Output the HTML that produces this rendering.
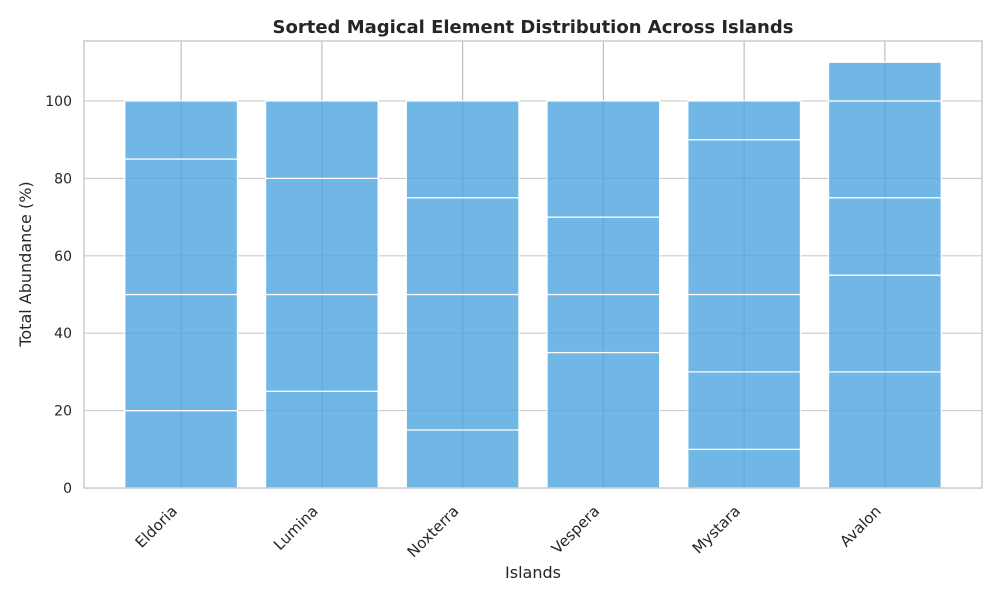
<!DOCTYPE html>
<html><head><meta charset="utf-8"><style>
body{margin:0;background:#fff;}
svg text{font-family:"DejaVu Sans","Liberation Sans",sans-serif;fill:#262626;}
</style></head><body>
<svg id="chart" width="1000" height="600" xmlns="http://www.w3.org/2000/svg">
<rect width="1000" height="600" fill="#fff"/>
<g id="grid"></g>
<g id="bars"></g>
<g id="axes"></g>
<text x="533" y="33" text-anchor="middle" font-size="18" font-weight="bold">Sorted Magical Element Distribution Across Islands</text>
<text x="533" y="578" text-anchor="middle" font-size="16">Islands</text>
<text transform="translate(31,264) rotate(-90)" text-anchor="middle" font-size="16">Total Abundance (%)</text>
</svg>
<script>
const categories=["Eldoria","Lumina","Noxterra","Vespera","Mystara","Avalon"];
const s1=[20,25,15,35,10,30];
const s2=[30,25,35,15,20,25];
const s3=[35,30,25,20,20,20];
const s4=[15,20,25,30,40,25];
const s5=[0,0,0,0,10,10];
const series=[s1,s2,s3,s4,s5];
const yTicks=[0,20,40,60,80,100];
const L=84,R=982,T=41,B=488,ymax=115.5;
const y=v=>B-(v/ymax)*(B-T);
const xs=(R-L)/(categories.length-1+1.38);
const x=i=>L+(i+0.69)*xs;
const NS="http://www.w3.org/2000/svg";
function mk(t,a,p){const e=document.createElementNS(NS,t);for(const k in a)e.setAttribute(k,a[k]);p.appendChild(e);return e;}
const grid=document.getElementById('grid'),bars=document.getElementById('bars'),axes=document.getElementById('axes');
yTicks.forEach(v=>{
 const g=mk('line',{x1:L,x2:R,y1:y(v),y2:y(v),stroke:'#cccccc','stroke-width':1.1},grid);
 
 
 const t=mk('text',{x:L-12,y:y(v)+5,'text-anchor':'end','font-size':14},axes);
 t.textContent=v;
 
 
});
categories.forEach((c,i)=>{
 const g=mk('line',{x1:x(i),x2:x(i),y1:T,y2:B,stroke:'#b8b8b8','stroke-width':1.1},grid);
 
 
 let base=0;const w=0.8*xs;
 series.forEach((s,k)=>{
  const v=s[i]; if(v<=0)return;
  const r=mk('rect',{x:x(i)-w/2,y:y(base+v),width:w,height:y(base)-y(base+v),fill:'#4DA5DE','fill-opacity':0.8,stroke:'#fff','stroke-width':1.2},bars);
  
  
  base+=v;
 });
 const t=mk('text',{transform:`translate(${x(i)-3},${B+24}) rotate(-45)`,'text-anchor':'end','font-size':15},axes);
 t.textContent=c;
 
 
});
const f=mk('rect',{x:L,y:T,width:R-L,height:B-T,fill:'none',stroke:'#cccccc','stroke-width':1.5},axes);


</script>
</body></html>
